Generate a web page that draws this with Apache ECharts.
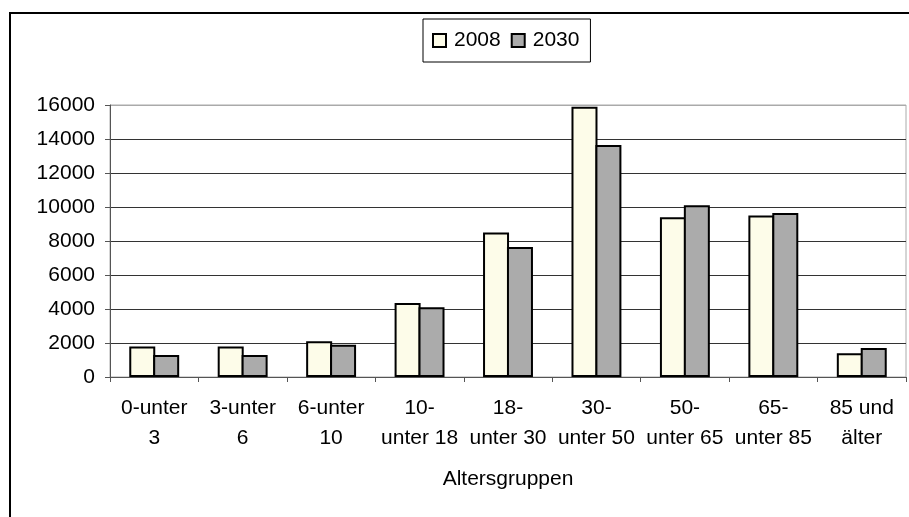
<!DOCTYPE html>
<html lang="de">
<head>
  <meta charset="UTF-8">
  <title>Altersgruppen 2008 / 2030</title>
  <style>
    html, body { margin: 0; padding: 0; background: #fff; }
    #chart { width: 909px; height: 517px; }
  </style>
  <script src="https://cdn.jsdelivr.net/npm/echarts@6/dist/echarts.min.js"></script>
</head>
<body>
  <div id="chart"></div>
  <script>
    // Altersgruppen (x-Achse)
    const categories = ['0-unter\n3', '3-unter\n6', '6-unter\n10', '10-\nunter 18', '18-\nunter 30',
                        '30-\nunter 50', '50-\nunter 65', '65-\nunter 85', '85 und\nälter'];
    const values2008 = [1800, 1800, 2100, 4350, 8500, 15900, 9400, 9500, 1400];
    const values2030 = [1300, 1300, 1900, 4100, 7650, 13650, 10100, 9650, 1700];
    const seriesNames = ['2008', '2030'];
    const yTicks = { min: 0, max: 16000, interval: 2000 };

    const font = 'Liberation Sans, Arial, sans-serif';
    const fs = 21;
    // letzte Gitterlinie (16000) ist der graue Rand der Zeichnungsfläche
    const gridColors = ['#333', '#333', '#333', '#333', '#333', '#333', '#333', '#333', '#aaa'];

    const myChart = echarts.init(document.getElementById('chart'));
    myChart.setOption({
      animation: false,
      backgroundColor: '#fff',
      textStyle: { fontFamily: font, color: '#000' },
      graphic: [{
        type: 'rect',
        shape: { x: 10, y: 13, width: 1000, height: 600 },
        style: { fill: 'none', stroke: '#000', lineWidth: 2 },
        z: -1
      }],
      legend: {
        data: seriesNames,
        left: 423,
        top: 19,
        orient: 'horizontal',
        borderColor: '#000',
        borderWidth: 1,
        padding: [11, 11, 11, 9],
        itemWidth: 13,
        itemHeight: 13,
        itemGap: 10,
        icon: 'rect',
        textStyle: { fontSize: fs, fontFamily: font, color: '#000', padding: [0, 0, 0, 3] }
      },
      grid: {
        left: 110, right: 3, top: 105, bottom: 140,
        show: true, borderColor: '#aaa', borderWidth: 1
      },
      xAxis: {
        type: 'category',
        data: categories,
        name: 'Altersgruppen',
        nameLocation: 'middle',
        nameGap: 92,
        nameTextStyle: { fontSize: fs, fontFamily: font, color: '#000' },
        axisLine: { lineStyle: { color: '#555', width: 1 } },
        axisTick: { show: true, length: 5, alignWithLabel: false, lineStyle: { color: '#555' } },
        axisLabel: { fontSize: fs, fontFamily: font, color: '#000', lineHeight: 30, margin: 16, interval: 0 }
      },
      yAxis: {
        type: 'value',
        min: yTicks.min,
        max: yTicks.max,
        interval: yTicks.interval,
        axisLine: { show: true, lineStyle: { color: '#555', width: 1 } },
        axisTick: { show: true, length: 5, lineStyle: { color: '#555' } },
        axisLabel: {
          fontSize: fs, fontFamily: font, color: '#000', margin: 15,
          formatter: function (v) { return String(v); }
        },
        splitLine: { show: true, lineStyle: { color: gridColors, width: 1 } }
      },
      series: [
        {
          name: seriesNames[0],
          type: 'bar',
          data: values2008,
          barWidth: 26,
          barGap: '-8%',
          itemStyle: { color: '#fdfce9', borderColor: '#000', borderWidth: 2 }
        },
        {
          name: seriesNames[1],
          type: 'bar',
          data: values2030,
          barWidth: 26,
          barGap: '-8%',
          itemStyle: { color: '#ababab', borderColor: '#000', borderWidth: 2 }
        }
      ]
    });
  </script>
</body>
</html>
